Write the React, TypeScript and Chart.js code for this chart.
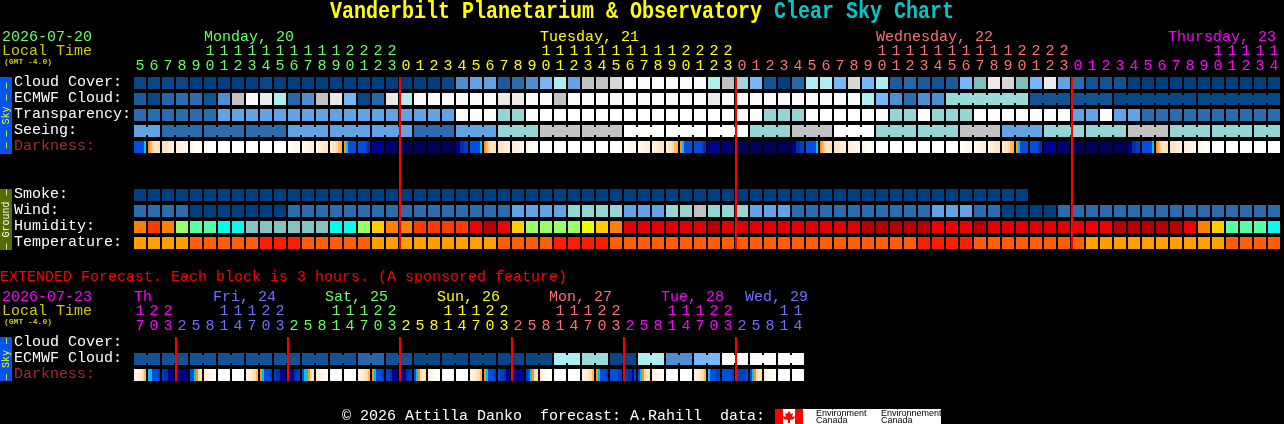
import React, { useEffect, useRef } from "react";
import { Chart, registerables } from "chart.js";

Chart.register(...registerables);

// ---------- data: main forecast (one cell per hour) ----------
const hoursMain = [5,6,7,8,9,10,11,12,13,14,15,16,17,18,19,20,21,22,23,
  0,1,2,3,4,5,6,7,8,9,10,11,12,13,14,15,16,17,18,19,20,21,22,23,
  0,1,2,3,4,5,6,7,8,9,10,11,12,13,14,15,16,17,18,19,20,21,22,23,
  0,1,2,3,4,5,6,7,8,9,10,11,12,13,14];
const dayStartsMain = [0, 19, 43, 67];
const midnightsMain = [19, 43, 67];

const cloudCover = [5,5,5,5,0,0,0,0,0,5,0,0,0,0,0,0,0,0,0,0,0,0,
  5,30,40,40,15,25,30,50,70,40,80,80,85,100,100,100,100,100,100,70,80,60,50,10,0,20,70,70,50,85,
  50,70,15,20,15,10,15,50,65,90,85,65,50,90,40,25,10,10,10,0,0,0,0,0,0,0,0,0,0,0];
const ecmwfCloud = [15,5,20,25,25,10,30,80,100,90,70,20,30,80,90,50,5,20,90,70,100,100,
  100,100,100,100,90,90,100,100,80,100,100,100,100,100,100,100,100,100,100,90,100,100,100,100,100,100,100,100,100,100,
  70,50,30,25,30,30,60,60,60,60,60,60,10,10,10,10,10,10,5,5,5,5,5,5,5,5,5,5,5,5];
const ecmwfSpans = [[58,6],[64,3],[67,3],[70,6],[76,6]];
const transparency = [1,1,1,1,1,1,2,2,2,2,2,2,2,2,2,2,2,2,2,2,2,2,2,
  5,5,5,3,3,5,5,5,5,5,5,5,5,5,5,5,5,5,5,5,5,5,3,3,3,5,5,5,5,5,5,3,3,5,3,3,3,
  5,5,5,5,5,5,5,2,2,5,2,2,1,1,1,1,1,1,1,1,1,1];
const seeing = [2,2,1,1,1,1,1,1,1,1,1,2,2,2,2,2,2,2,2,2,1,1,1,2,2,2,3,3,3,4,4,4,4,4,4,
  5,5,5,5,5,5,5,5,5,3,3,3,4,4,4,5,5,5,3,3,3,3,3,3,4,4,4,2,2,2,3,3,3,3,3,3,4,4,4,3,3,3,3,3,3,3,3];
const seeingBlockLengths = [2,3,3,3,3,3,3,3,3,3,3,3,3,3,3,3,3,3,3,3,3,3,3,3,3,3,3,2];
const darknessMain = ["aaaaa8","765444","444333","332222","221111","110000","000000","000000","000000","000000","000000",
  "011222","122333","233444","344566","78aaaa","aaaabc","dddddd","eeeeee","ffffff","ffffff","ffffff","ffffff","ddccbb",
  "aaaaa8","765444","444333","332222","221111","000000","000000","000000","000000","000000","000000",
  "011222","122333","233444","344566","78aaaa","aaaabc","dddddd","eeeeee","ffffff","ffffff","ffffff","ffffff","ddccbb",
  "aaaaa8","765444","444333","332222","221111","000000","000000","000000","000000","000000","000000",
  "011222","122333","233444","344566","78aaaa","aaaabc","dddddd","eeeeee","ffffff","ffffff","ffffff","ffffff","ddccbb",
  "aaaaa8","765444","444333","332222","221111","000000","000000","000000","000000","000000"];
const smoke = [0,0,0,0,0,0,0,0,0,0,0,0,0,0,0,0,0,0,0,0,0,0,0,0,0,0,0,0,0,0,0,0,
  0,0,0,0,0,0,0,0,0,0,0,0,0,0,0,0,0,0,0,0,0,0,0,0,0,0,0,0,0,0,0,0];
const wind = [2,2,2,2,1,1,1,1,1,1,1,2,2,2,2,2,2,2,2,2,2,2,2,2,2,2,2,3,3,3,3,6,6,6,6,3,3,3,6,6,7,6,6,6,3,3,3,2,2,2,2,2,
  2,2,2,2,2,3,3,3,2,2,1,1,1,1,2,2,2,2,2,2,2,2,2,2,2,2,2,2,2,2];
const humidity = [75,80,75,60,55,55,50,50,45,45,45,45,45,45,50,50,60,70,75,75,80,
  80,80,80,85,95,85,70,60,60,60,60,65,70,75,90,90,90,90,90,90,95,90,90,90,90,90,90,90,90,90,90,
  95,95,95,95,95,85,85,85,95,90,90,90,90,90,90,85,85,85,95,95,95,95,95,85,75,70,55,55,55,50];
const temperature = [20,20,20,20,25,25,25,25,25,30,30,30,25,25,25,25,25,20,20,20,20,20,20,20,20,20,
  25,25,25,25,30,30,30,30,25,25,25,25,25,25,25,25,25,25,25,25,25,25,25,25,25,25,
  25,25,25,25,30,30,30,30,25,25,25,25,25,25,25,25,20,20,20,20,20,20,20,20,20,20,25,25,25,25];

// ---------- data: extended forecast (one cell per 3 hours) ----------
const hoursExt = [17,20,23,2,5,8,11,14,17,20,23,2,5,8,11,14,17,20,23,2,5,8,11,14,17,20,23,
  2,5,8,11,14,17,20,23,2,5,8,11,14,17,20,23,2,5,8,11,14];
const dayStartsExt = [0, 3, 11, 19, 27, 35, 43];
const midnightsExt = [3, 11, 19, 27, 35, 43];
const ecmwfExt = [10,10,10,10,10,10,10,10,10,10,10,10,10,10,10,10,20,20,10,10,5,5,5,5,5,5,5,5,5,5,
  70,70,60,60,5,5,70,70,30,30,50,50,100,100,100,100,100,100];
const ecmwfExtSpans = [[0,2],[2,2],[4,2],[6,2],[8,2],[10,2],[12,2],[14,2],[16,2],[18,2],[20,2],[22,2],
  [24,2],[26,2],[28,2],[30,2],[32,2],[34,2],[36,2],[38,2],[40,2],[42,2],[44,2],[46,2]];
const darknessExt = ["223356","88aaab","bccddd","ddddee","aa8754","332211","000000","000000",
  "233456","78aaab","bccddd","dddccb","a88754","332211","000000","000000",
  "233456","78aaab","bbcddd","dddccb","a87544","322100","000000","000000",
  "233456","78aaab","abbcdd","dddddd","ba8754","322100","000000","000000",
  "233456","78aaab","aaaabb","bbccdb","a87544","332211","000000","000000",
  "233456","8aaabb","aaaaab","abbbba","a87544","322110","000000","000000"];

// ---------- labels ----------
const rowLabelsMain = ["Cloud Cover:","ECMWF Cloud:","Transparency:","Seeing:","Darkness:","","","Smoke:","Wind:","Humidity:","Temperature:"];
const rowLabelsExt = ["Cloud Cover:","ECMWF Cloud:","Darkness:"];
const dayLabelsMain = [["Monday, 20",5],["Tuesday, 21",29],["Wednesday, 22",53],["Thursday, 23",73.86]];
const dayLabelsExt = [["Th",0],["Fri, 24",5.64],["Sat, 25",13.64],["Sun, 26",21.64],["Mon, 27",29.64],["Tue, 28",37.64],["Wed, 29",43.64]];

// ---------- palettes and layout ----------
const mono = "'Liberation Mono'";
const cloudPalette = {0:"#003F7F",5:"#0A4585",10:"#135393",15:"#1D5B9D",20:"#2767A7",25:"#2C6BAC",30:"#4F8FCF",40:"#63A3E3",50:"#77B7F7",60:"#9ADADA",65:"#7FBFBF",70:"#AEEEEE",80:"#C2C2C2",85:"#D8D8D8",90:"#EAEAEA",100:"#FBFBFB"};
const classPalette = {1:"#2C6BAC",2:"#63A3E3",3:"#95D5D5",4:"#C2C2C2",5:"#FFFFFF"};
const smokePalette = {0:"#003F7F"};
const windPalette = {1:"#003F7F",2:"#2C6BAC",3:"#63A3E3",6:"#95D5D5",7:"#C2C2C2"};
const humidityPalette = {45:"#85C2C2",50:"#00FFEE",55:"#55FFAA",60:"#99FF66",65:"#EEFF00",70:"#FFCC00",75:"#FF8000",80:"#FF3A00",85:"#F00000",90:"#E00000",95:"#B80000"};
const temperaturePalette = {20:"#FFA000",25:"#FF5F00",30:"#FF1F00"};
const darknessRamp = ["#FFFFFF","#FFFBF5","#FFF5E8","#FFEED8","#FFE4C4","#FFD8A8","#FFB860","#FF9800","#00C0FF","#0060E0","#0050DD","#0040C0","#0030A8","#000090","#000070","#000058"];
const dayColorsMain = ["#66FF66","#FFFF00","#FF7070","#FF00FF"];
const dayColorsExt = ["#FF00FF","#7070FF","#66FF66","#FFFF00","#FF7070","#FF00FF","#7070FF"];

const CELL = 14, ROW = 16;
const rowHalf = 6 / ROW;

function dayIndex(starts, i) {
  let d = 0;
  starts.forEach((s, n) => { if (i >= s) d = n; });
  return d;
}
function cells(label, row, values, palette) {
  return { type: "bar", label, stack: "s", barThickness: 12, inflateAmount: 0, borderWidth: 0,
    data: values.map((_, i) => ({ x: i, y: [row - rowHalf, row + rowHalf] })),
    backgroundColor: values.map((v) => palette[v]) };
}
function bridges(label, row, values, palette, spans) {
  const pts = [], cols = [];
  spans.forEach(([start, len]) => {
    for (let j = 0; j < len - 1; j++) {
      pts.push({ x: start + j + 0.5, y: [row - 0.25, row + 0.25] });
      cols.push(palette[values[start]]);
    }
  });
  return { type: "bar", label, stack: "s", barThickness: 2, inflateAmount: 0, borderWidth: 0, data: pts, backgroundColor: cols };
}
function darkness(label, row, samples) {
  const pts = [], cols = [];
  samples.forEach((s, i) => {
    s.split("").forEach((ch, j) => {
      pts.push({ x: i + ((j - 2.5) * 2) / CELL, y: [row - rowHalf, row + rowHalf] });
      cols.push(darknessRamp[parseInt(ch, 16)]);
    });
  });
  return { type: "bar", label, stack: "s", barThickness: 2, inflateAmount: 0, borderWidth: 0, data: pts, backgroundColor: cols };
}
function midnightLines(label, list, topRow, bottomRow) {
  return { type: "bar", label, stack: "s", barThickness: 2, inflateAmount: 0, borderWidth: 0,
    data: list.map((i) => ({ x: i - 3 / 7, y: [topRow - rowHalf, bottomRow + rowHalf] })),
    backgroundColor: "#FF0000" };
}
function spansFromLengths(lengths) {
  let s = 0;
  return lengths.map((n) => { const r = [s, n]; s += n; return r; });
}

function text(ctx, str, x, y, color, font) {
  ctx.fillStyle = color;
  ctx.font = font;
  ctx.textAlign = "left";
  ctx.textBaseline = "alphabetic";
  ctx.fillText(str, x, y);
}
function tallText(ctx, str, x, y, color, font, stretch) {
  ctx.save();
  ctx.translate(x, y);
  ctx.scale(1, stretch);
  text(ctx, str, 0, 0, color, font);
  ctx.restore();
}
function sideBar(ctx, top, bottom, fill, color, label) {
  ctx.fillStyle = fill;
  ctx.fillRect(0, top, 12, bottom - top);
  ctx.save();
  ctx.translate(6, (top + bottom) / 2);
  ctx.rotate(-Math.PI / 2);
  ctx.fillStyle = color;
  ctx.font = `10px ${mono}`;
  ctx.textAlign = "center";
  ctx.textBaseline = "middle";
  ctx.fillText(label, 0, 0);
  ctx.restore();
}

function baseOptions(hours, starts, rowLabels, yMax, bottomPad) {
  const labelFont = { family: mono, size: 15, lineHeight: "15px" };
  return {
    responsive: false,
    animation: false,
    devicePixelRatio: 1,
    events: [],
    layout: { padding: { left: 14, right: 0, top: 0, bottom: bottomPad } },
    plugins: { legend: { display: false }, tooltip: { enabled: false }, title: { display: false } },
    scales: {
      x: {
        type: "linear", position: "top", stacked: true, offset: false,
        min: -0.5, max: (1284 - 133) / CELL - 0.5,
        grid: { display: false, drawTicks: false }, border: { display: false },
        afterBuildTicks: (s) => { s.ticks = hours.map((_, i) => ({ value: i })); },
        afterFit: (s) => { s.height = 75; },
        ticks: {
          autoSkip: false, maxRotation: 0, minRotation: 0, padding: 1, font: labelFont,
          callback: (_v, i) => { const h = hours[i]; return [h >= 10 ? String(Math.floor(h / 10)) : " ", String(h % 10)]; },
          color: (c) => (starts === dayStartsMain ? dayColorsMain : dayColorsExt)[dayIndex(starts, c.index)],
        },
      },
      y: {
        type: "linear", reverse: true, stacked: false, min: -0.5, max: yMax, beginAtZero: false,
        grid: { display: false, drawTicks: false }, border: { display: false },
        afterBuildTicks: (s) => { s.ticks = rowLabels.map((_, i) => ({ value: i })); },
        afterFit: (s) => { s.width = 119; },
        ticks: {
          autoSkip: false, crossAlign: "far", padding: 0, labelOffset: -1, font: { family: mono, size: 15 },
          callback: (_v, i) => rowLabels[i],
          color: (c) => (rowLabels[c.index] === "Darkness:" ? "#A52A2A" : "#FFFFFF"),
        },
      },
    },
  };
}

const overlayPlugin = (draw) => ({
  id: "overlay",
  afterDraw(chart) { draw(chart.ctx, chart.scales.x); },
});

function drawMainOverlay(ctx, x) {
  const f = `15px ${mono}`;
  tallText(ctx, "Vanderbilt Planetarium & Observatory", 330, 18, "#FFFF00", `bold 20px ${mono}`, 1.15);
  tallText(ctx, "Clear Sky Chart", 774, 18, "#00C8C8", `bold 20px ${mono}`, 1.15);
  text(ctx, "2026-07-20", 2, 41, "#66FF66", f);
  text(ctx, "Local Time", 2, 55, "#CCCC00", f);
  text(ctx, "(GMT -4.0)", 4, 64, "#CCCC00", `bold 8px ${mono}`);
  dayLabelsMain.forEach(([t, c], i) => text(ctx, t, x.getPixelForValue(c) - 6, 41, dayColorsMain[i], f));
  sideBar(ctx, 77, 154, "#0055EE", "#FFFF00", "— — Sky — —");
  sideBar(ctx, 189, 250, "#556B00", "#FFFFFF", "— Ground —");
}
function drawExtOverlay(ctx, x) {
  const f = `15px ${mono}`;
  text(ctx, "EXTENDED Forecast. Each block is 3 hours. (A sponsored feature)", 0, 21, "#FF0000", f);
  text(ctx, "2026-07-23", 2, 41, "#FF00FF", f);
  text(ctx, "Local Time", 2, 55, "#CCCC00", f);
  text(ctx, "(GMT -4.0)", 4, 64, "#CCCC00", `bold 8px ${mono}`);
  dayLabelsExt.forEach(([t, c], i) => text(ctx, t, x.getPixelForValue(c) - 6, 41, dayColorsExt[i], f));
  sideBar(ctx, 77, 121, "#0055EE", "#FFFF00", "— Sky —");
  // footer
  text(ctx, "© 2026 Attilla Danko  forecast: A.Rahill  data:", 342, 160, "#FFFFFF", f);
  // Environment Canada wordmark
  ctx.fillStyle = "#FFFFFF";
  ctx.fillRect(775, 149, 166, 15);
  ctx.fillStyle = "#FF0000";
  ctx.fillRect(775, 149, 8, 15);
  ctx.fillRect(795, 149, 8, 15);
  ctx.beginPath();
  [[789,151],[791,154],[793,153],[792,157],[795,156],[794,159],[790,160],[790,163],[788,163],[788,160],[784,159],[783,156],[786,157],[785,153],[787,154]]
    .forEach(([a, b], i) => (i ? ctx.lineTo(a, b) : ctx.moveTo(a, b)));
  ctx.closePath();
  ctx.fill();
  const lf = "9px 'Liberation Sans'";
  text(ctx, "Environment", 816, 156, "#000000", lf);
  text(ctx, "Canada", 816, 163, "#000000", lf);
  text(ctx, "Environnement", 881, 156, "#000000", lf);
  text(ctx, "Canada", 881, 163, "#000000", lf);
}

export default function App() {
  const mainRef = useRef(null);
  const extRef = useRef(null);

  useEffect(() => {
    const main = new Chart(mainRef.current, {
      type: "bar",
      plugins: [overlayPlugin(drawMainOverlay)],
      data: {
        datasets: [
          midnightLines("Midnight", midnightsMain, 0, 10),
          cells("Cloud Cover", 0, cloudCover, cloudPalette),
          cells("ECMWF Cloud", 1, ecmwfCloud, cloudPalette),
          bridges("ECMWF blocks", 1, ecmwfCloud, cloudPalette, ecmwfSpans),
          cells("Transparency", 2, transparency, classPalette),
          cells("Seeing", 3, seeing, classPalette),
          bridges("Seeing blocks", 3, seeing, classPalette, spansFromLengths(seeingBlockLengths)),
          darkness("Darkness", 4, darknessMain),
          cells("Smoke", 7, smoke, smokePalette),
          cells("Wind", 8, wind, windPalette),
          cells("Humidity", 9, humidity, humidityPalette),
          cells("Temperature", 10, temperature, temperaturePalette),
        ],
      },
      options: baseOptions(hoursMain, dayStartsMain, rowLabelsMain, 10.75, 9),
    });
    const ext = new Chart(extRef.current, {
      type: "bar",
      plugins: [overlayPlugin(drawExtOverlay)],
      data: {
        datasets: [
          midnightLines("Midnight", midnightsExt, 0, 2),
          cells("ECMWF Cloud", 1, ecmwfExt, cloudPalette),
          bridges("ECMWF blocks", 1, ecmwfExt, cloudPalette, ecmwfExtSpans),
          darkness("Darkness", 2, darknessExt),
        ],
      },
      options: baseOptions(hoursExt, dayStartsExt, rowLabelsExt, 2.5, 41),
    });
    return () => { main.destroy(); ext.destroy(); };
  }, []);

  return (
    <div style={{ position: "fixed", left: 0, top: 0, width: 1284, height: 424, background: "#000", overflow: "hidden" }}>
      <canvas ref={mainRef} width={1284} height={264} style={{ position: "absolute", left: 0, top: 0, display: "block" }} />
      <canvas ref={extRef} width={1284} height={164} style={{ position: "absolute", left: 0, top: 260, display: "block" }} />
    </div>
  );
}
